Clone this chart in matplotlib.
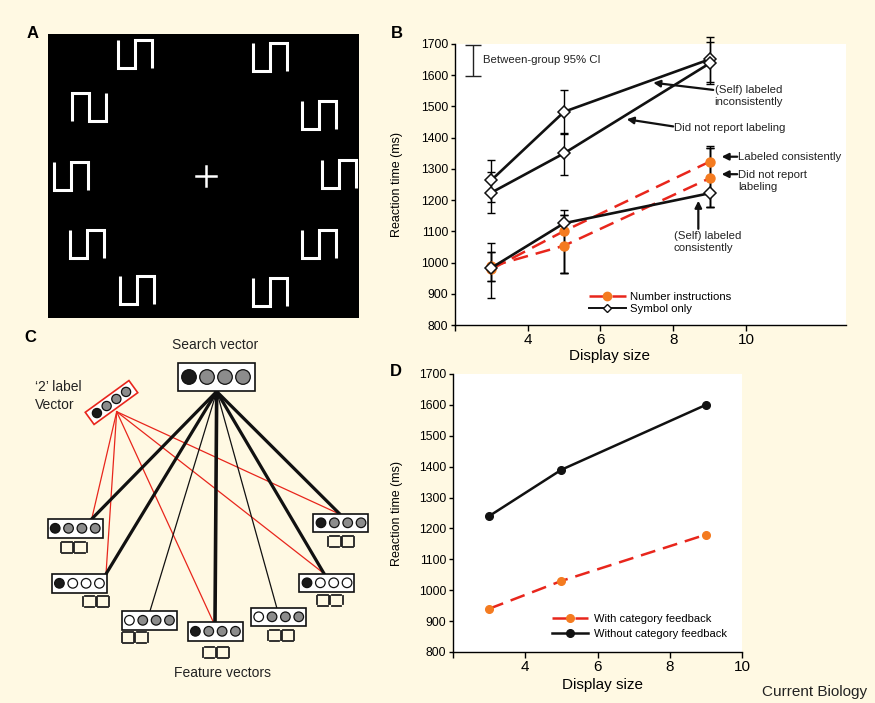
import numpy as np
import matplotlib
matplotlib.use("Agg")
import matplotlib.pyplot as plt
from matplotlib.patches import Rectangle, Circle, Polygon
from matplotlib.lines import Line2D

plt.rcParams['font.family'] = ['Liberation Sans', 'DejaVu Sans']

BG = '#fff9e3'
ORANGE = '#f47b20'
RED = '#e8261c'

# panel B data
display_sizes = [3, 5, 9]
sym_inconsistent = [1264, 1483, 1651]
sym_inconsistent_lo = [1195, 1413, 1579]
sym_inconsistent_hi = [1328, 1553, 1721]
sym_no_report = [1224, 1350, 1638]
sym_no_report_lo = [1158, 1280, 1572]
sym_no_report_hi = [1291, 1415, 1707]
sym_consistent = [983, 1126, 1222]
sym_consistent_lo = [887, 965, 1179]
sym_consistent_hi = [1062, 1168, 1366]
num_consistent = [979, 1101, 1323]
num_consistent_lo = [941, 965, 1179]
num_consistent_hi = [1033, 1152, 1373]
num_no_report = [988, 1054, 1270]
num_no_report_lo = [941, 965, 1179]
num_no_report_hi = [1033, 1152, 1366]

# panel D data
with_feedback = [940, 1030, 1180]
without_feedback = [1240, 1390, 1600]

y_ticks = [800, 900, 1000, 1100, 1200, 1300, 1400, 1500, 1600, 1700]
x_ticks = [4, 6, 8, 10]

fig = plt.figure(figsize=(8.75, 7.03), dpi=100, facecolor=BG)

# overlay in pixel coordinates for panels A and C
ov = fig.add_axes([0, 0, 1, 1], zorder=0)
ov.set_xlim(0, 875)
ov.set_ylim(703, 0)
ov.axis('off')

for letter, (lx, ly) in {'A': (33, 33), 'B': (397, 33), 'C': (30, 337), 'D': (396, 372)}.items():
    ov.text(lx, ly, letter, fontsize=12, fontweight='bold', ha='center', va='center')
ov.text(867, 692, 'Current Biology', fontsize=11, ha='right', va='center', color='#222222')

# ---- panel A: search display ----
ov.add_patch(Rectangle((48, 34), 311, 284, facecolor='black', edgecolor='none'))


def glyph(cx, cy, mirrored=False, w=34, h=28):
    x0, x1, xm = cx - w / 2, cx + w / 2, cx
    top, bot = cy - h / 2, cy + h / 2
    xs = [x0, x0, xm, xm, x1, x1]
    if not mirrored:
        ys = [top, bot, bot, top, top, bot]
    else:
        ys = [bot, top, top, bot, bot, top]
    ov.plot(xs, ys, color='white', lw=2.2, solid_joinstyle='miter', solid_capstyle='butt')


glyph_pos = [(135, 54), (269.5, 56.5), (319, 114.5), (70.5, 176), (338.7, 174),
             (87, 244), (319, 244), (137, 290), (270, 292)]
for gx, gy in glyph_pos:
    glyph(gx, gy)
glyph(89, 107, mirrored=True)
ov.plot([196, 216], [176, 176], color='white', lw=1.8)
ov.plot([206, 206], [166, 186], color='white', lw=1.8)

# ---- panel C: network diagram ----
fills = {'k': '#1a1a1a', 'g': '#8c8c8c', 'w': 'white'}

search_origin = (216.7, 391.5)
label_origin = (116.7, 411.7)
black_targets = [(91.7, 519, 2.3), (106, 574, 2.3), (150, 611, 0.9), (215, 622, 2.6),
                 (276.7, 607.5, 0.9), (324, 573.5, 2.3), (339.3, 513.5, 2.3)]
red_targets = [(91.7, 519), (106, 574), (213.3, 622), (338.3, 513.5), (324, 573.5)]

for tx, ty in red_targets:
    ov.plot([label_origin[0], tx], [label_origin[1], ty], color=RED, lw=0.9, zorder=2)
for tx, ty, lw in black_targets:
    ov.plot([search_origin[0], tx], [search_origin[1], ty], color='#111111', lw=lw, zorder=2)


def digits(x0, y0):
    w, h, g = 12.5, 11, 1.4
    for k in range(2):
        xa = x0 + k * 13.5
        xb = xa + w
        segs = [([xa + g, xb - g], [y0, y0]), ([xa + g, xb - g], [y0 + h, y0 + h]),
                ([xa, xa], [y0 + g, y0 + h - g]), ([xb, xb], [y0 + g, y0 + h - g])]
        for sx, sy in segs:
            ov.plot(sx, sy, color='#222222', lw=1.3, zorder=3)


feature_boxes = [(47.5, 519, 'kggg', 60.5, 542), (51.7, 574, 'kwww', 83.3, 596),
                 (121.7, 611, 'wggg', 121.7, 632), (187.7, 622, 'kggg', 203.3, 647),
                 (251, 607.5, 'wggg', 268.3, 630), (299.3, 573.5, 'kwww', 316.7, 594.5),
                 (313.3, 513.5, 'kggg', 328.3, 536)]
for bx, by, pat, dx, dy in feature_boxes:
    ov.add_patch(Rectangle((bx, by), 55, 18.5, facecolor='white', edgecolor='#111111', lw=1.2, zorder=4))
    for i, c in enumerate(pat):
        ov.add_patch(Circle((bx + 7.7 + i * 13.35, by + 9.3), 4.8, facecolor=fills[c],
                            edgecolor='#111111', lw=0.9, zorder=5))
    digits(dx, dy)

# search vector
ov.add_patch(Rectangle((178, 363), 77, 28, facecolor='white', edgecolor='#111111', lw=1.2, zorder=4))
for i, c in enumerate('kggg'):
    ov.add_patch(Circle((189 + i * 18, 377), 7.3, facecolor=fills[c], edgecolor='#111111', lw=0.9, zorder=5))
ov.text(215, 345, 'Search vector', fontsize=10, ha='center', va='center', color='#222222')
ov.text(223, 673, 'Feature vectors', fontsize=10, ha='center', va='center', color='#222222')
ov.text(35, 396, '\u20182\u2019 label\nVector', fontsize=10, ha='left', va='center',
        color='#222222', linespacing=1.35)

# rotated label vector
cx, cy, ang = 111.5, 402.5, np.deg2rad(-36)
ux, uy = np.cos(ang), np.sin(ang)
vx, vy = -uy, ux
L, H = 27, 7.5
corners = [(cx + sx * L * ux + sy * H * vx, cy + sx * L * uy + sy * H * vy)
           for sx, sy in [(-1, -1), (1, -1), (1, 1), (-1, 1)]]
ov.add_patch(Polygon(corners, closed=True, facecolor='white', edgecolor=RED, lw=1.2, zorder=4))
for i, c in enumerate('kggg'):
    off = -18 + i * 12
    ov.add_patch(Circle((cx + off * ux, cy + off * uy), 4.6, facecolor=fills[c],
                        edgecolor='#111111', lw=0.9, zorder=5))

# ---- panel B ----
axB = fig.add_axes([455 / 875, 1 - 325 / 703, 391 / 875, 281 / 703], zorder=1)
axB.set_facecolor('white')
ekw = dict(ecolor='black', elinewidth=1.0, capsize=3, capthick=1.0)


def yerr(v, lo, hi):
    return [np.array(v) - np.array(lo), np.array(hi) - np.array(v)]


for vals, lo, hi in [(num_consistent, num_consistent_lo, num_consistent_hi),
                     (num_no_report, num_no_report_lo, num_no_report_hi)]:
    eb = axB.errorbar(display_sizes, vals, yerr=yerr(vals, lo, hi), fmt='none', zorder=2, **ekw)
    for a in eb.lines[1] + eb.lines[2]:
        a.set_clip_on(False)
    axB.plot(display_sizes, vals, color=RED, lw=1.8, dashes=(6, 3.2), zorder=3,
             marker='o', markersize=6.5, markerfacecolor=ORANGE, markeredgecolor=ORANGE)

for vals, lo, hi in [(sym_inconsistent, sym_inconsistent_lo, sym_inconsistent_hi),
                     (sym_no_report, sym_no_report_lo, sym_no_report_hi),
                     (sym_consistent, sym_consistent_lo, sym_consistent_hi)]:
    eb = axB.errorbar(display_sizes, vals, yerr=yerr(vals, lo, hi), fmt='none', zorder=2, **ekw)
    for a in eb.lines[1] + eb.lines[2]:
        a.set_clip_on(False)
    axB.plot(display_sizes, vals, color='#111111', lw=1.9, zorder=4, marker='D', markersize=5.8,
             markerfacecolor='white', markeredgecolor='#111111', markeredgewidth=1.1)

# between-group CI
axB.errorbar([2.49], [1646], yerr=[[50], [50]], fmt='none', ecolor='#222222',
             elinewidth=1.0, capsize=5.5, capthick=1.0)
fs = 8.2
axB.text(2.77, 1649, 'Between-group 95% CI', fontsize=fs, va='center', color='#222222')

ak = dict(arrowstyle='-|>', lw=1.6, color='#111111', mutation_scale=10, shrinkA=0, shrinkB=0)
axB.annotate('', xy=(7.45, 1576), xytext=(9.1, 1553), arrowprops=ak)
axB.text(9.14, 1533, '(Self) labeled\ninconsistently', fontsize=fs, va='center', color='#222222',
         linespacing=1.3)
axB.annotate('', xy=(6.72, 1459), xytext=(8.0, 1436), arrowprops=ak)
axB.text(8.02, 1430, 'Did not report labeling', fontsize=fs, va='center', color='#222222')
axB.annotate('', xy=(9.33, 1339), xytext=(9.76, 1339), arrowprops=ak)
axB.text(9.78, 1339, 'Labeled consistently', fontsize=fs, va='center', color='#222222')
axB.annotate('', xy=(9.33, 1283), xytext=(9.76, 1283), arrowprops=ak)
axB.text(9.78, 1261, 'Did not report\nlabeling', fontsize=fs, va='center', color='#222222',
         linespacing=1.3)
axB.annotate('', xy=(8.69, 1198), xytext=(8.69, 1108), arrowprops=ak)
axB.text(8.02, 1066, '(Self) labeled\nconsistently', fontsize=fs, va='center', color='#222222',
         linespacing=1.3)

hB = [Line2D([], [], color=RED, lw=1.8, dashes=(6, 3.2), marker='o', markersize=6,
             markerfacecolor=ORANGE, markeredgecolor=ORANGE),
      Line2D([], [], color='#111111', lw=1.4, marker='D', markersize=4.5,
             markerfacecolor='white', markeredgecolor='#111111')]
axB.legend(hB, ['Number instructions', 'Symbol only'], loc='center left',
           bbox_to_anchor=(0.343, 0.078), frameon=False, fontsize=fs, handlelength=3.2,
           handletextpad=0.4, labelspacing=0.2, borderpad=0, borderaxespad=0)

# ---- panel D ----
axD = fig.add_axes([453 / 875, 1 - 652 / 703, 289 / 875, 278 / 703], zorder=1)
axD.set_facecolor('white')
axD.plot(display_sizes, with_feedback, color=RED, lw=1.8, dashes=(6, 3.2), marker='o',
         markersize=5.5, markerfacecolor=ORANGE, markeredgecolor=ORANGE, label='With category feedback')
axD.plot(display_sizes, without_feedback, color='#111111', lw=1.8, marker='o', markersize=5.5,
         markerfacecolor='#111111', label='Without category feedback')
axD.legend(loc='center left', bbox_to_anchor=(0.344, 0.0935), frameon=False, fontsize=8,
           handlelength=3.2, handletextpad=0.5, labelspacing=0.45, borderpad=0, borderaxespad=0)

for ax, xmax, xl, yl in [(axB, 12.75, (0.394, -0.085), -0.133), (axD, 10, (0.516, -0.093), -0.173)]:
    ax.set_xlim(2, xmax)
    ax.set_ylim(800, 1700)
    ax.set_yticks(y_ticks)
    ax.set_xticks([2] + x_ticks)
    ax.set_xticklabels([''] + [str(t) for t in x_ticks])
    ax.spines['top'].set_visible(False)
    ax.spines['right'].set_visible(False)
    ax.spines['left'].set_linewidth(1.0)
    ax.spines['bottom'].set_linewidth(1.0)
    ax.tick_params(axis='y', direction='out', length=3, width=1, labelsize=8.8, pad=2)
    ax.tick_params(axis='x', direction='out', length=4, width=1, labelsize=11, pad=2)
    ax.set_xlabel('Display size', fontsize=11)
    ax.set_ylabel('Reaction time (ms)', fontsize=9)
    ax.xaxis.set_label_coords(*xl)
    ax.yaxis.set_label_coords(yl, 0.5)

fig.savefig('out.png', dpi=100, facecolor=BG)
